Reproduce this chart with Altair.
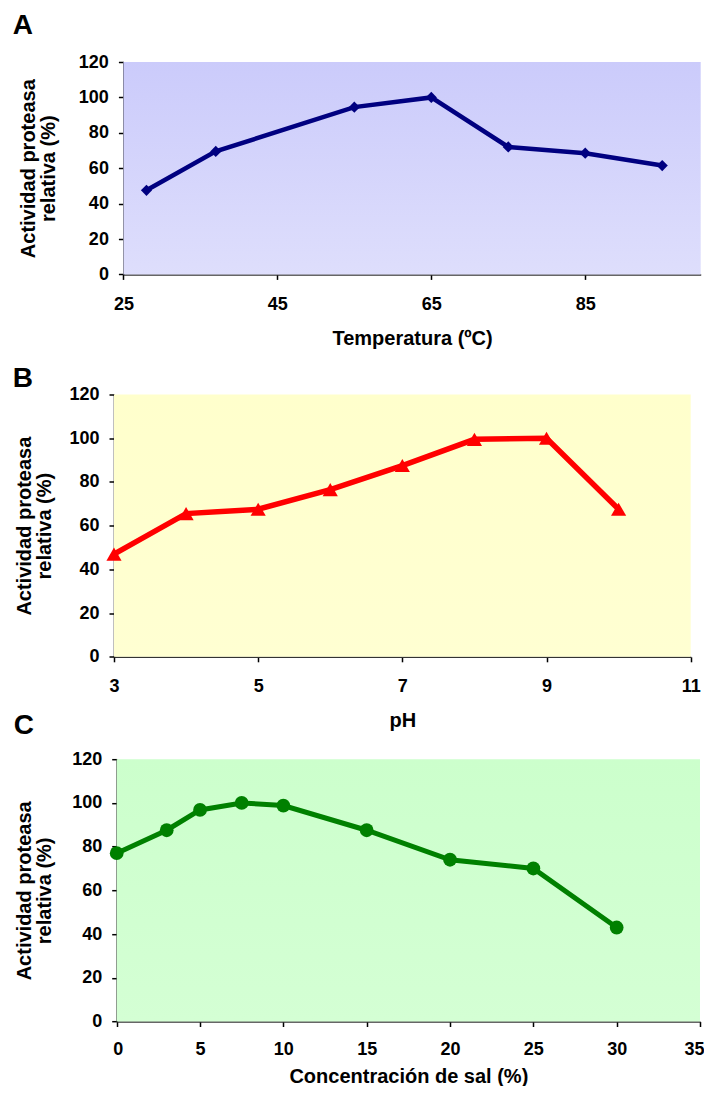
import altair as alt
import pandas as pd

# ---- data ----
temp_x = [28, 37, 55, 65, 75, 85, 95]
temp_y = [47.5, 69.5, 94.5, 100, 72, 68.5, 61.5]

ph_x = [3, 4, 5, 6, 7, 8, 9, 10]
ph_y = [47, 65.5, 67.5, 76.5, 87.5, 99.5, 100, 67.5]

sal_x = [0, 3, 5, 7.5, 10, 15, 20, 25, 30]
sal_y = [77, 87.5, 96.8, 100, 98.8, 87.5, 74, 70, 43]

y_ticks = [0, 20, 40, 60, 80, 100, 120]
temp_ticks = [25, 45, 65, 85]
ph_ticks = [3, 5, 7, 9, 11]
sal_ticks = [0, 5, 10, 15, 20, 25, 30, 35]

FONT = "Liberation Sans"
Y_TITLE = ["Actividad proteasa", "relativa (%)"]


def panel(xs, ys, letter, xtitle, xdomain, xticks, color, shape, size, sw,
          shift, w, h, top_color, bottom_color, title_offset, title_dx,
          y_title_pad, x_label_pad, x_title_pad, flush):
    df = pd.DataFrame({"x": xs, "y": ys})
    axis_kw = dict(values=xticks, title=xtitle, labelPadding=x_label_pad,
                   titlePadding=x_title_pad, format="d",
                   domainColor="#333333", labelOverlap=False)
    if flush:
        axis_kw.update(labelFlush=True, labelFlushOffset=flush)
    else:
        axis_kw.update(labelFlush=False)
    xenc = alt.X(
        "x:Q",
        scale=alt.Scale(domain=xdomain, nice=False, zero=False, range=[shift, shift + w]),
        axis=alt.Axis(**axis_kw),
    )
    yenc = alt.Y(
        "y:Q",
        scale=alt.Scale(domain=[0, 120], nice=False),
        axis=alt.Axis(values=y_ticks, title=Y_TITLE, labelFlush=False,
                      labelPadding=10, titlePadding=y_title_pad, offset=-shift,
                      titleLineHeight=20, format="d", labelOverlap=False),
    )
    grad = alt.LinearGradient(
        gradient="linear",
        stops=[alt.GradientStop(color=top_color, offset=0),
               alt.GradientStop(color=bottom_color, offset=1)],
        x1=0, x2=0, y1=0, y2=1,
    )
    bg = alt.Chart(pd.DataFrame({"b": [0]})).mark_rect(color=grad).encode(
        x=alt.value(shift), x2=alt.value(shift + w), y=alt.value(0), y2=alt.value("height")
    )
    line = alt.Chart(df).mark_line(color=color, strokeWidth=sw).encode(x=xenc, y=yenc)
    pts = alt.Chart(df).mark_point(
        shape=shape, size=size, filled=True, opacity=1, color=color
    ).encode(x=xenc, y=yenc)
    return alt.layer(bg, line, pts).properties(
        width=shift + w, height=h,
        title=alt.TitleParams(letter, anchor="start", frame="bounds", fontSize=28,
                              font=FONT, fontWeight="bold", color="black",
                              offset=title_offset, dx=title_dx),
    )


A = panel(temp_x, temp_y, "A", "Temperatura (ºC)", [25, 100], temp_ticks,
          "#000080", "diamond", 125, 4.5, 9.4, 577.3, 212.4,
          "#cbcbfb", "#dedefc", 12.6, -6, 19.7, 16, 15, 0)
B = panel(ph_x, ph_y, "B", "pH", [3, 11], ph_ticks,
          "#ff0000", "triangle-up", 230, 5.5, 0, 576.7, 262.3,
          "#ffffcc", "#ffffd2", -7.3, -2, 14.3, 16, 15, 0)
C = panel(sal_x, sal_y, "C", "Concentración de sal (%)", [0, 35], sal_ticks,
          "#008000", "circle", 190, 5, 2.7, 583.3, 262.3,
          "#ccffcc", "#d4ffd4", 9.9, -1, 17, 13.5, 8, 4)

top = alt.concat(A, B, columns=1, spacing=15.5)
chart = alt.concat(top, C, columns=1, spacing=-18.8).properties(
    padding={"left": 4, "top": 4, "right": 0, "bottom": 0}
).configure_axis(
    labelFont=FONT, labelFontSize=18, labelFontWeight="bold", labelColor="black",
    titleFont=FONT, titleFontSize=20, titleFontWeight="bold", titleColor="black",
    domainColor="black", domainWidth=1.5, tickColor="black", tickWidth=1.5,
    tickSize=5, grid=False, labelOverlap=False,
).configure_view(strokeWidth=0)

chart.save("out.html", embed_options={"renderer": "svg", "actions": False})
